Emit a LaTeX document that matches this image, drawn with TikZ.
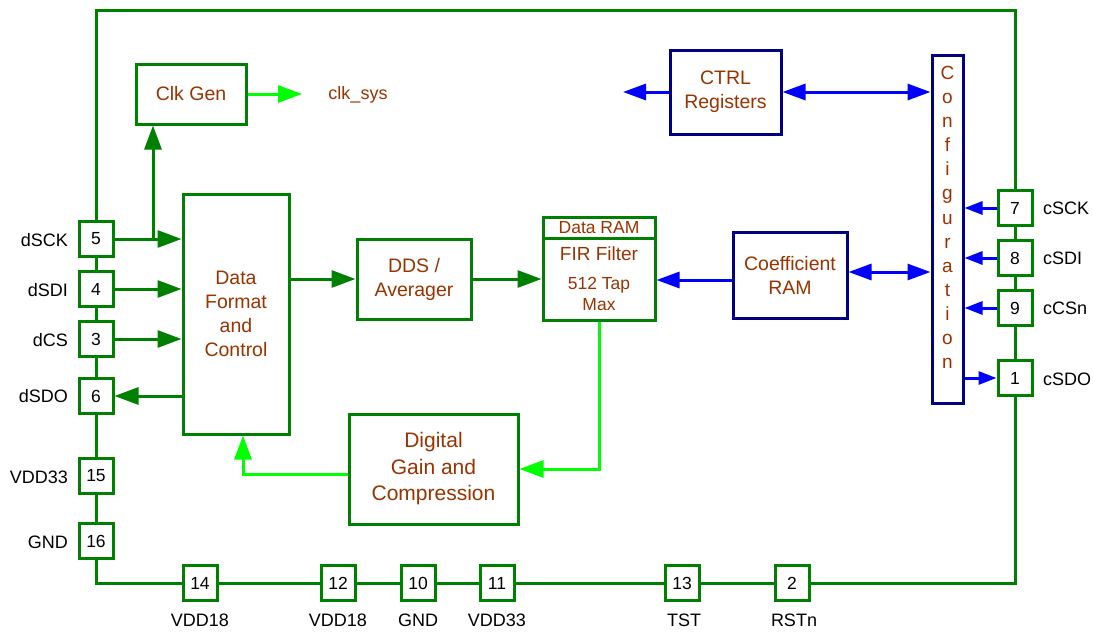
\documentclass[tikz,border=0pt]{standalone}
\usepackage{fontspec}
\setmainfont{Liberation Sans}
\usetikzlibrary{arrows.meta}
\definecolor{cDark}{RGB}{0,128,0}
\definecolor{cLight}{RGB}{0,255,0}
\definecolor{cNavy}{RGB}{0,0,128}
\definecolor{cBlue}{RGB}{0,0,255}
\definecolor{cText}{RGB}{153,51,0}
\begin{document}
\begin{tikzpicture}[x=1pt,y=-1pt,
  gbox/.style={draw=cDark,line width=3pt,fill=white,inner sep=0pt,text=cText,align=center,font=\fontsize{19.5}{24}\selectfont},
  nbox/.style={draw=cNavy,line width=3pt,fill=white,inner sep=0pt,text=cText,align=center,font=\fontsize{19.5}{24}\selectfont},
  pinsq/.style={draw=cDark,line width=3pt,fill=white,inner sep=0pt,minimum width=34pt,minimum height=35pt,font=\fontsize{17.5}{20}\selectfont},
  plabel/.style={inner sep=0pt,font=\fontsize{18}{20}\selectfont},
  bus/.style={draw=cDark,line width=3pt},
  garrow/.style={draw=cDark,line width=3pt,-{Triangle[length=24pt,width=17pt]}},
  lgarrow/.style={draw=cLight,line width=3pt,-{Triangle[length=24pt,width=17pt]}},
  barrow/.style={draw=cBlue,line width=3pt,-{Triangle[length=18pt,width=13pt]},color=cBlue},
  bbarrow/.style={draw=cBlue,line width=3pt,{Triangle[length=23pt,width=16pt]}-{Triangle[length=23pt,width=16pt]},color=cBlue},
  bsarrow/.style={draw=cBlue,line width=3pt,-{Triangle[length=23pt,width=16pt]},color=cBlue},
]
\useasboundingbox (0,0) rectangle (1093,632);

% frame corners
\coordinate (tl) at (96,10);
\coordinate (tr) at (1015,10);
\coordinate (bl) at (96,583);
\coordinate (br) at (1015,583);

% pins
\node[pinsq] (p5) at (96,239) {5};
\node[pinsq] (p4) at (96,289) {4};
\node[pinsq] (p3) at (96,339) {3};
\node[pinsq] (p6) at (96,396) {6};
\node[pinsq] (p15) at (96,476) {15};
\node[pinsq] (p16) at (96,541) {16};
\node[pinsq] (p14) at (200,583) {14};
\node[pinsq] (p12) at (338,583) {12};
\node[pinsq] (p10) at (418,583) {10};
\node[pinsq] (p11) at (497,583) {11};
\node[pinsq] (p13) at (682,583) {13};
\node[pinsq] (p2) at (792,583) {2};
\node[pinsq] (p7) at (1015,208) {7};
\node[pinsq] (p8) at (1015,258) {8};
\node[pinsq] (p9) at (1015,308) {9};
\node[pinsq] (p1) at (1015,378) {1};

% bus
\draw[bus] (p5) -- (tl) -- (tr) -- (p7);
\draw[bus] (p7) -- (p8);
\draw[bus] (p8) -- (p9);
\draw[bus] (p9) -- (p1);
\draw[bus] (p1) -- (br) -- (p2);
\draw[bus] (p2) -- (p13);
\draw[bus] (p13) -- (p11);
\draw[bus] (p11) -- (p10);
\draw[bus] (p10) -- (p12);
\draw[bus] (p12) -- (p14);
\draw[bus] (p14) -- (bl) -- (p16);
\draw[bus] (p16) -- (p15);
\draw[bus] (p15) -- (p6);
\draw[bus] (p6) -- (p3);
\draw[bus] (p3) -- (p4);
\draw[bus] (p4) -- (p5);

% pin labels
\node[plabel,anchor=east] (l5) at (68,240) {dSCK};
\node[plabel,anchor=east] (l4) at (68,290) {dSDI};
\node[plabel,anchor=east] (l3) at (68,340) {dCS};
\node[plabel,anchor=east] (l6) at (68,396) {dSDO};
\node[plabel,anchor=east] (l15) at (68,477) {VDD33};
\node[plabel,anchor=east] (l16) at (68,542) {GND};
\node[plabel] (l14) at (200,620) {VDD18};
\node[plabel] (l12) at (338,620) {VDD18};
\node[plabel] (l10) at (418,620) {GND};
\node[plabel] (l11) at (497,620) {VDD33};
\node[plabel] (l13) at (684,620) {TST};
\node[plabel] (l2) at (794,620) {RSTn};
\node[plabel,anchor=west] (l7) at (1043,208) {cSCK};
\node[plabel,anchor=west] (l8) at (1043,258) {cSDI};
\node[plabel,anchor=west] (l9) at (1043,308) {cCSn};
\node[plabel,anchor=west] (l1) at (1043,379) {cSDO};

% blocks
\node[gbox,minimum width=110pt,minimum height=60pt] (ckg) at (191,94) {Clk Gen};
\node[gbox,minimum width=106pt,minimum height=240pt] (df) at (236,314) {Data\\Format\\and\\Control};
\node[gbox,minimum width=114pt,minimum height=80pt] (dds) at (414,279) {DDS /\\Averager};
\node[gbox,minimum width=112pt,minimum height=103pt] (fir) at (599,268.5) {};
\draw[bus] (fir.west |- 0,238) -- (fir.east |- 0,238);
\node[inner sep=0pt,text=cText,font=\fontsize{17.5}{20}\selectfont] (firram) at (599,228) {Data RAM};
\node[inner sep=0pt,text=cText,font=\fontsize{19}{22}\selectfont] (firname) at (599,254) {FIR Filter};
\node[inner sep=0pt,text=cText,align=center,font=\fontsize{17.5}{21}\selectfont] (firtap) at (599,294) {512 Tap\\Max};
\node[gbox,minimum width=169pt,minimum height=110pt,font=\fontsize{21}{26.5}\selectfont] (dgc) at (433.5,469) {Digital\\Gain and\\Compression};
\node[nbox,minimum width=111pt,minimum height=84pt] (ctrl) at (725.5,92) {CTRL\\Registers};
\node[nbox,minimum width=114pt,minimum height=86pt] (coef) at (790,275) {Coefficient\\RAM};
\node[nbox,minimum width=31pt,minimum height=348pt] (cfg) at (947.5,229) {};
\node[inner sep=0pt,anchor=north,text=cText,align=center,font=\fontsize{19}{24.1}\selectfont] (cfgtxt) at (947.5,66) {C\\o\\n\\f\\i\\g\\u\\r\\a\\t\\i\\o\\n};

% clk
\coordinate (clkout) at (302,94);
\draw[lgarrow] (ckg.east) -- (clkout);
\node[plabel,text=cText] (clksys) at (358,95) {clk\_sys};
\coordinate (ckt) at (153,239);
\draw[garrow] (ckt) -- (ckt |- ckg.south);

% data pins
\draw[garrow] (p5) -- (p5 -| df.west);
\draw[garrow] (p4) -- (p4 -| df.west);
\draw[garrow] (p3) -- (p3 -| df.west);
\draw[garrow] (p6 -| df.west) -- (p6);

% datapath
\draw[garrow] (df.east |- dds.west) -- (dds.west);
\draw[garrow] (dds.east) -- (dds.east -| fir.west);
\draw[lgarrow] (fir.south) |- (dgc.east);
\draw[lgarrow] ([yshift=-5pt]dgc.west) -| ([xshift=7pt]df.south);

% blue control
\coordinate (ctrlout) at (623,92);
\draw[bsarrow] (ctrl.west) -- (ctrlout);
\draw[bbarrow] (ctrl.east) -- (ctrl.east -| cfg.west);
\draw[bsarrow] ([yshift=-5pt]coef.west) -- ([yshift=-5pt]coef.west -| fir.east);
\draw[bbarrow] ([yshift=3pt]coef.east) -- ([yshift=3pt]coef.east -| cfg.west);
\draw[barrow] (p7) -- (p7 -| cfg.east);
\draw[barrow] (p8) -- (p8 -| cfg.east);
\draw[barrow] (p9) -- (p9 -| cfg.east);
\draw[barrow] (p1 -| cfg.east) -- (p1);
\end{tikzpicture}
\end{document}
